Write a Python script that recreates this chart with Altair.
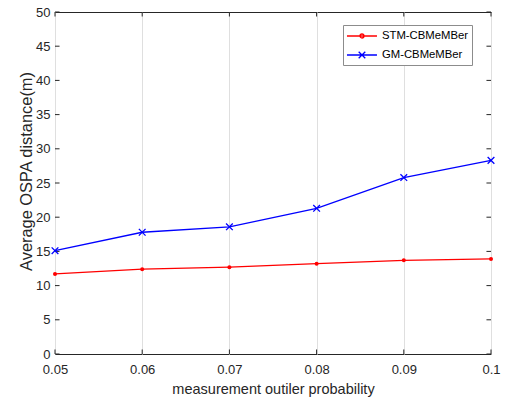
import altair as alt
import pandas as pd

prob = [0.05, 0.06, 0.07, 0.08, 0.09, 0.10]
stm = [11.7, 12.4, 12.7, 13.2, 13.7, 13.9]
gm = [15.1, 17.8, 18.6, 21.3, 25.8, 28.3]
series = ["STM-CBMeMBer", "GM-CBMeMBer"]
colors = ["#FF0000", "#0000FF"]
x_ticks = prob
y_ticks = list(range(0, 51, 5))

df = pd.DataFrame({"p": prob * 2, "v": stm + gm,
                   "s": [series[0]] * len(prob) + [series[1]] * len(prob)})
xt = pd.DataFrame({"t": x_ticks})
yt = pd.DataFrame({"t": y_ticks})

FONT = "Liberation Sans"
xs = alt.Scale(domain=[0.05, 0.1], nice=False, zero=False)
ys = alt.Scale(domain=[0, 50], nice=False, zero=False)
xax = alt.Axis(values=x_ticks, format=".2~f", title="measurement outiler probability",
               ticks=False, tickSize=0, domain=False, labelPadding=9, titlePadding=6,
               labelFlush=False, titleFontSize=14.5)
yax = alt.Axis(values=y_ticks, format="d", title="Average OSPA distance(m)",
               ticks=False, tickSize=0, domain=False, labelPadding=5, titlePadding=1,
               labelFlush=False, titleFontSize=16.4, titleY=159)

X = alt.X("p:Q", scale=xs, axis=xax)
Y = alt.Y("v:Q", scale=ys, axis=yax)

def series_layers(name, color, marker):
    base = alt.Chart(df).transform_filter(alt.datum.s == name)
    line = base.mark_line(color=color, strokeWidth=1.3).encode(x=X, y=Y)
    if marker == "dot":
        pts = base.mark_point(filled=True, shape="circle", size=16, color=color, opacity=1).encode(x=X, y=Y)
    else:
        pts = base.mark_point(filled=False, shape="M-1,-1L1,1M-1,1L1,-1", size=45,
                              strokeWidth=1.3, color=color, opacity=1).encode(x=X, y=Y)
    return [line, pts]

TK = "#262626"
dy = 0.66
dx = 0.00052
tick_b = alt.Chart(xt).mark_rule(color=TK, strokeWidth=1).encode(
    x=alt.X("t:Q", scale=xs, axis=xax), y=alt.Y(datum=0, axis=yax), y2=alt.datum(dy))
tick_t = alt.Chart(xt).mark_rule(color=TK, strokeWidth=1).encode(
    x=alt.X("t:Q", scale=xs, axis=xax), y=alt.Y(datum=50, axis=yax), y2=alt.datum(50 - dy))
tick_l = alt.Chart(yt).mark_rule(color=TK, strokeWidth=1).encode(
    y=alt.Y("t:Q", scale=ys, axis=yax), x=alt.X(datum=0.05, axis=xax), x2=alt.datum(0.05 + dx))
tick_r = alt.Chart(yt).mark_rule(color=TK, strokeWidth=1).encode(
    y=alt.Y("t:Q", scale=ys, axis=yax), x=alt.X(datum=0.1, axis=xax), x2=alt.datum(0.1 - dx))

path_stm = "M-1.17,0H3.83M1.66,0A0.33,0.33 0 1,1 1.0,0A0.33,0.33 0 1,1 1.66,0"
path_gm = "M-1.17,0H3.83M0.78,-0.55L1.88,0.55M0.78,0.55L1.88,-0.55"

leg = alt.Legend(title=None, orient="none", legendX=288, legendY=13,
                 fillColor="white", strokeColor="#8c8c8c", padding=4,
                 symbolSize=144, symbolStrokeWidth=1.3, labelOffset=21,
                 rowPadding=6, labelFont=FONT, labelFontSize=11.3, labelColor="black",
                 symbolFillColor="transparent")

legend_layer = alt.Chart(df).transform_filter("datum.v < 0").mark_point(
    filled=False, strokeWidth=1.3, opacity=1).encode(
    x=X, y=Y,
    color=alt.Color("s:N", scale=alt.Scale(domain=series, range=colors), legend=leg),
    shape=alt.Shape("s:N", scale=alt.Scale(domain=series, range=[path_stm, path_gm]), legend=leg),
)

layers = [tick_b, tick_t, tick_l, tick_r]
layers += series_layers(series[0], colors[0], "dot")
layers += series_layers(series[1], colors[1], "x")
layers += [legend_layer]

chart = alt.layer(*layers).properties(
    width=436, height=342,
    autosize=alt.AutoSizeParams(type="none"),
    padding={"left": 55, "top": 12, "right": 14, "bottom": 45},
    background="white",
).configure_view(stroke=TK, strokeWidth=1).configure_axis(
    gridColor="#dfdfdf", gridWidth=1, labelFont=FONT, labelFontSize=13, labelColor=TK,
    titleFont=FONT, titleColor=TK, titleFontWeight="normal",
)

chart.save("out.html", embed_options={"renderer": "svg", "actions": False})
